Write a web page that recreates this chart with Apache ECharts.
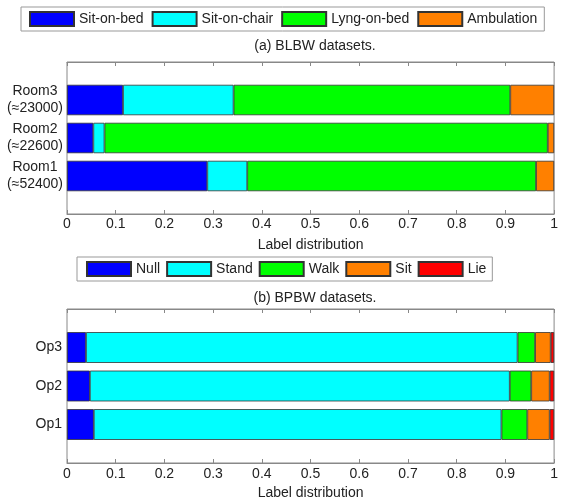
<!DOCTYPE html>
<html>
<head>
<meta charset="utf-8">
<script src="https://cdn.jsdelivr.net/npm/echarts@6/dist/echarts.min.js"></script>
<style>
html,body{margin:0;padding:0;background:#fff;}
#c{width:561px;height:501px;}
</style>
</head>
<body>
<div id="c"></div>
<script>
// ---- Data (a) BLBW datasets ----
var roomNames = ['Room1', 'Room2', 'Room3'];
var roomCounts = ['(≈52400)', '(≈22600)', '(≈23000)'];
var blbwLabels = ['Sit-on-bed', 'Sit-on-chair', 'Lyng-on-bed', 'Ambulation'];
var sitOnBed   = [0.288, 0.054, 0.115];
var sitOnChair = [0.082, 0.023, 0.227];
var lyngOnBed  = [0.593, 0.910, 0.568];
var ambulation = [0.037, 0.013, 0.090];

// ---- Data (b) BPBW datasets ----
var opNames = ['Op1', 'Op2', 'Op3'];
var bpbwLabels = ['Null', 'Stand', 'Walk', 'Sit', 'Lie'];
var nullV  = [0.055, 0.047, 0.039];
var standV = [0.837, 0.862, 0.886];
var walkV  = [0.053, 0.044, 0.036];
var sitV   = [0.046, 0.038, 0.032];
var lieV   = [0.009, 0.009, 0.007];

var xTicks = [0, 0.1, 0.2, 0.3, 0.4, 0.5, 0.6, 0.7, 0.8, 0.9, 1];

var colA = ['#0000ff', '#00ffff', '#00ff00', '#ff8000'];
var colB = ['#0000ff', '#00ffff', '#00ff00', '#ff8000', '#ff0000'];

function pad(arr) { return ['-'].concat(arr).concat(['-']); }
function padCat(arr) { return [''].concat(arr).concat(['']); }

var FONT = 'Liberation Sans, Arial, sans-serif';
var TXT = '#222';

var chart = echarts.init(document.getElementById('c'), null, {renderer: 'canvas'});

function xAxes(gridIndex, nameGap, labelMargin) {
  return [{
    gridIndex: gridIndex, type: 'value', position: 'bottom',
    min: xTicks[0], max: xTicks[xTicks.length - 1], interval: 0.1,
    name: 'Label distribution', nameLocation: 'middle', nameGap: nameGap,
    nameTextStyle: {fontFamily: FONT, fontSize: 14, color: TXT},
    axisLine: {show: true, lineStyle: {color: '#888', width: 1}},
    axisTick: {show: true, inside: true, length: 4, lineStyle: {color: '#888'}},
    axisLabel: {fontFamily: FONT, fontSize: 14, color: TXT, margin: labelMargin},
    splitLine: {show: false}
  }, {
    gridIndex: gridIndex, type: 'value', position: 'top',
    min: xTicks[0], max: xTicks[xTicks.length - 1], interval: 0.1,
    axisLine: {show: true, lineStyle: {color: '#888', width: 1}},
    axisTick: {show: true, inside: true, length: 4, lineStyle: {color: '#888'}},
    axisLabel: {show: false},
    splitLine: {show: false}
  }];
}

var roomLabels = roomNames.map(function (n, i) { return n + '\n' + roomCounts[i]; });

var series = [];
var aData = [sitOnBed, sitOnChair, lyngOnBed, ambulation];
blbwLabels.forEach(function (name, i) {
  series.push({
    name: name, type: 'bar', stack: 'a', xAxisIndex: 0, yAxisIndex: 0,
    barWidth: '80%', data: pad(aData[i]),
    itemStyle: {color: colA[i], borderColor: '#333', borderWidth: 0.8},
    emphasis: {disabled: true}, animation: false
  });
});
var bData = [nullV, standV, walkV, sitV, lieV];
bpbwLabels.forEach(function (name, i) {
  series.push({
    name: name, type: 'bar', stack: 'b', xAxisIndex: 2, yAxisIndex: 1,
    barWidth: '80%', data: pad(bData[i]),
    itemStyle: {color: colB[i], borderColor: '#333', borderWidth: 0.8},
    emphasis: {disabled: true}, animation: false
  });
});

var legendCommon = {
  orient: 'horizontal', itemWidth: 44, itemHeight: 14, itemGap: 6,
  borderColor: '#999', borderWidth: 1, backgroundColor: '#fff',
  textStyle: {fontFamily: FONT, fontSize: 14, color: TXT},
  selectedMode: false, icon: 'rect'
};

chart.setOption({
  animation: false,
  backgroundColor: '#fff',
  title: [
    {text: '(a) BLBW datasets.', left: 310, top: 34, textAlign: 'center',
     textStyle: {fontFamily: FONT, fontSize: 14, fontWeight: 'normal', color: TXT}},
    {text: '(b) BPBW datasets.', left: 310, top: 286, textAlign: 'center',
     textStyle: {fontFamily: FONT, fontSize: 14, fontWeight: 'normal', color: TXT}}
  ],
  legend: [
    Object.assign({}, legendCommon, {data: blbwLabels, left: 21, top: 7, itemGap: 8, padding: [4, 7, 4, 8]}),
    Object.assign({}, legendCommon, {data: bpbwLabels, left: 77, top: 257, padding: [4, 6, 4, 9]})
  ],
  grid: [
    {left: 67, top: 62, width: 490, height: 152, show: true, borderColor: '#888', borderWidth: 1, backgroundColor: '#fff'},
    {left: 67, top: 309, width: 490, height: 154, show: true, borderColor: '#888', borderWidth: 1, backgroundColor: '#fff'}
  ],
  xAxis: xAxes(0, 24, 3).concat(xAxes(1, 23, 4)),
  yAxis: [{
    gridIndex: 0, type: 'category', boundaryGap: false, data: padCat(roomLabels),
    axisLine: {show: false}, axisTick: {show: false}, splitLine: {show: false},
    axisLabel: {fontFamily: FONT, fontSize: 14, color: TXT, align: 'center', margin: 32, lineHeight: 17}
  }, {
    gridIndex: 1, type: 'category', boundaryGap: false, data: padCat(opNames),
    axisLine: {show: false}, axisTick: {show: false}, splitLine: {show: false},
    axisLabel: {fontFamily: FONT, fontSize: 14, color: TXT, margin: 5}
  }],
  series: series
});
</script>
</body>
</html>
